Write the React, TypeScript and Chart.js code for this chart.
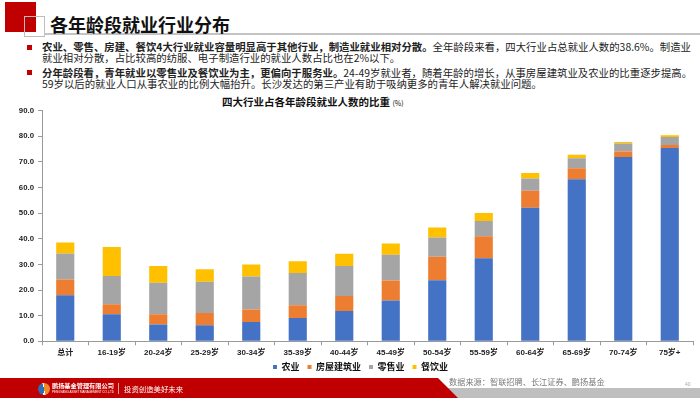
import React, { useEffect, useRef } from "react";
import { Chart, registerables } from "chart.js";

Chart.register(...registerables);

const categories = ["总计", "16-19岁", "20-24岁", "25-29岁", "30-34岁", "35-39岁", "40-44岁", "45-49岁", "50-54岁", "55-59岁", "60-64岁", "65-69岁", "70-74岁", "75岁+"];
const seriesNames = ["农业", "房屋建筑业", "零售业", "餐饮业"];
const agriculture = [18.0, 10.6, 6.6, 6.3, 7.5, 9.1, 11.8, 15.9, 23.8, 32.4, 52.1, 63.2, 71.9, 75.4];
const construction = [6.1, 3.9, 4.0, 4.7, 4.9, 5.0, 5.9, 7.8, 9.2, 8.6, 6.7, 4.3, 2.2, 1.2];
const retail = [10.2, 11.0, 12.3, 12.2, 12.9, 12.6, 11.7, 10.1, 7.5, 6.0, 4.7, 3.9, 3.1, 3.1];
const catering = [4.3, 11.3, 6.5, 4.9, 4.7, 4.5, 4.8, 4.4, 3.9, 3.1, 2.2, 1.4, 0.6, 0.7];
const seriesColors = ["#4472C4", "#ED7D31", "#A5A5A5", "#FFC000"];
const yMin = 0;
const yMax = 90;
const yStep = 10;

const CJK = "'Noto Sans CJK SC', sans-serif";
const LABEL_FONT = "'Liberation Sans', 'Noto Sans CJK SC', sans-serif";

const CANVAS_TOP = 100;

// place the legend where the original slide has it
const legendPlacer = {
  id: "legendPlacer",
  afterLayout(chart: any) {
    const lg = chart.legend;
    if (lg) {
      lg.left = 28;
      lg.top = 254.5;
    }
  },
};

function BarChart() {
  const ref = useRef<HTMLCanvasElement | null>(null);
  useEffect(() => {
    if (!ref.current) return;
    const values = [agriculture, construction, retail, catering];
    const chart = new Chart(ref.current, {
      type: "bar",
      data: {
        labels: categories,
        datasets: seriesNames.map((name, i) => ({
          label: name,
          data: values[i],
          backgroundColor: seriesColors[i],
          borderWidth: 0,
          barPercentage: 0.39,
          categoryPercentage: 1,
        })),
      },
      plugins: [legendPlacer],
      options: {
        responsive: false,
        animation: false,
        devicePixelRatio: 1,
        layout: { padding: { left: 0, right: 7, top: 10.7, bottom: 1.7 } },
        plugins: {
          title: { display: false },
          tooltip: { enabled: false },
          legend: {
            display: true,
            position: "bottom",
            labels: {
              boxWidth: 4,
              boxHeight: 4,
              padding: 8,
              color: "#111",
              font: { family: CJK, size: 9, weight: "bold" },
            },
          },
        },
        scales: {
          x: {
            stacked: true,
            afterFit: (s: any) => {
              s.height = 16;
            },
            grid: {
              display: true,
              drawOnChartArea: false,
              drawTicks: true,
              tickLength: 4,
              color: "#9a9a9a",
            },
            border: { display: true, color: "#9a9a9a", width: 1 },
            ticks: {
              color: "#222",
              padding: 3,
              maxRotation: 0,
              autoSkip: false,
              font: { family: LABEL_FONT, size: 8, weight: "bold" },
            },
          },
          y: {
            stacked: true,
            min: yMin,
            max: yMax,
            afterFit: (s: any) => {
              s.width = 42;
            },
            grid: {
              display: true,
              drawOnChartArea: false,
              drawTicks: true,
              tickLength: 4,
              color: "#9a9a9a",
            },
            border: { display: true, color: "#9a9a9a", width: 1 },
            ticks: {
              stepSize: yStep,
              padding: 4,
              color: "#222",
              font: { family: LABEL_FONT, size: 7.8, weight: "bold" },
              callback: (v: any) => Number(v).toFixed(1),
            },
          },
        },
      },
    });
    return () => chart.destroy();
  }, []);
  return (
    <canvas
      ref={ref}
      width={700}
      height={286}
      style={{ position: "absolute", left: 0, top: CANVAS_TOP, width: 700, height: 286 }}
    />
  );
}

const abs = (o: React.CSSProperties): React.CSSProperties => ({ position: "absolute", ...o });

export default function App() {
  const lineStyle: React.CSSProperties = {
    fontFamily: CJK,
    fontSize: 10.4,
    color: "#222",
    whiteSpace: "nowrap",
    lineHeight: "12px",
  };
  return (
    <div
      style={{
        position: "fixed",
        left: 0,
        top: 0,
        width: 700,
        height: 398,
        overflow: "hidden",
        background: "#fff",
        fontFamily: CJK,
      }}
    >
      {/* header decoration */}
      <div style={abs({ left: 5, top: 2, width: 31, height: 30, background: "#C00000" })} />
      <div style={abs({ left: 24, top: 16, width: 19, height: 19, border: "1.5px solid #bdbdbd" })} />
      <div style={abs({ left: 44, top: 33, width: 656, height: 2, background: "#c4c4c4" })} />
      <div style={abs({ left: 50, top: 12, fontSize: 18, fontWeight: "bold", color: "#111", lineHeight: "24px", whiteSpace: "nowrap" })}>
        各年龄段就业行业分布
      </div>

      {/* bullets */}
      <div style={abs({ left: 27, top: 45, width: 5, height: 5, background: "#C00000" })} />
      <div style={abs({ left: 27, top: 70, width: 5, height: 5, background: "#C00000" })} />
      <div style={abs({ left: 42, top: 41, ...lineStyle })}>
        <b>农业、零售、房建、餐饮4大行业就业容量明显高于其他行业，制造业就业相对分散。</b>全年龄段来看，四大行业占总就业人数的38.6%。制造业
      </div>
      <div style={abs({ left: 42, top: 52, ...lineStyle })}>
        就业相对分散，占比较高的纺服、电子制造行业的就业人数占比也在2%以下。
      </div>
      <div style={abs({ left: 42, top: 66.5, ...lineStyle })}>
        <b>分年龄段看，青年就业以零售业及餐饮业为主，更偏向于服务业。</b>24-49岁就业者，随着年龄的增长，从事房屋建筑业及农业的比重逐步提高。
      </div>
      <div style={abs({ left: 42, top: 78, ...lineStyle })}>
        59岁以后的就业人口从事农业的比例大幅抬升。长沙发达的第三产业有助于吸纳更多的青年人解决就业问题。
      </div>

      {/* chart title */}
      <div style={abs({ left: 222, top: 95, fontSize: 10.5, fontWeight: "bold", color: "#111", whiteSpace: "nowrap", lineHeight: "14px" })}>
        四大行业占各年龄段就业人数的比重 <span style={{ fontSize: 7, fontWeight: "normal" }}>(%)</span>
      </div>

      <BarChart />

      {/* footer */}
      <div style={abs({ left: 430, top: 388, width: 270, height: 10, background: "#bfbfbf" })} />
      <div
        style={abs({
          left: 0,
          top: 378,
          width: 460,
          height: 20,
          background: "#C00000",
          clipPath: "polygon(0 0, 438px 0, 458px 20px, 0 20px)",
        })}
      />
      <div
        style={abs({
          left: 38,
          top: 383,
          width: 12,
          height: 12,
          borderRadius: "50%",
          background: "conic-gradient(#f08a24 0 45%, #fff 45% 52%, #2f6db5 52% 95%, #fff 95%)",
        })}
      />
      <div style={abs({ left: 52, top: 382, fontSize: 6.2, fontWeight: "bold", color: "#fff", whiteSpace: "nowrap", lineHeight: "8px" })}>
        鹏扬基金管理有限公司
      </div>
      <div style={abs({ left: 52, top: 390, fontSize: 3, color: "#fff", whiteSpace: "nowrap", lineHeight: "4px", fontFamily: "'Liberation Sans', sans-serif" })}>
        PENGYANG ASSET MANAGEMENT CO.,LTD
      </div>
      <div style={abs({ left: 118, top: 383, width: 1, height: 11, background: "#e8a0a0" })} />
      <div style={abs({ left: 124, top: 384, fontSize: 7.4, color: "#fff", whiteSpace: "nowrap", lineHeight: "10px" })}>
        投资创造美好未来
      </div>
      <div style={abs({ left: 449, top: 376, fontSize: 8.2, color: "#7a7a7a", whiteSpace: "nowrap", lineHeight: "10px" })}>
        数据来源：智联招聘、长江证券、鹏扬基金
      </div>
      <div style={abs({ left: 685, top: 381, fontSize: 5, color: "#aaa", whiteSpace: "nowrap", lineHeight: "6px", fontFamily: "'Liberation Sans', sans-serif" })}>
        40
      </div>
    </div>
  );
}
